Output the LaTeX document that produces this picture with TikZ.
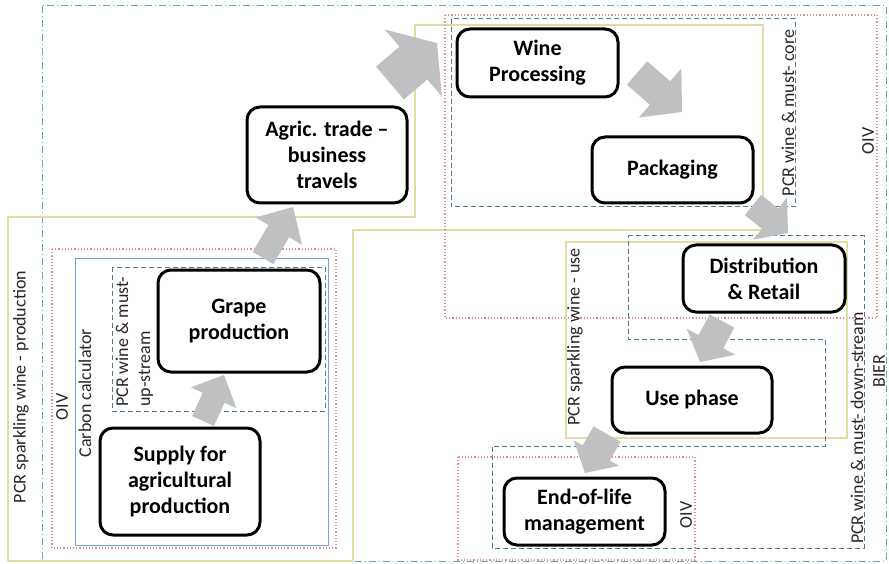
\documentclass[tikz,border=0pt]{standalone}
\usepackage{fontspec}
\setmainfont{Carlito}
\usetikzlibrary{calc}
\definecolor{boxyellow}{RGB}{226,219,165}
\definecolor{oivred}{RGB}{226,140,150}
\definecolor{bierteal}{RGB}{90,170,190}
\definecolor{pcrteal}{RGB}{80,125,150}
\definecolor{calcblue}{RGB}{120,165,215}
\definecolor{arrowgray}{RGB}{191,192,194}
\newcommand\blockarrow[5]{%
  \coordinate (tmpH) at ($(#2)!#5!(#1)$);
  \fill[arrowgray] ($(#1)!#3!90:(#2)$) -- ($(tmpH)!#3!90:(#2)$) -- ($(tmpH)!#4!90:(#2)$)
    -- (#2) -- ($(tmpH)!#4!-90:(#2)$) -- ($(tmpH)!#3!-90:(#2)$) -- ($(#1)!#3!-90:(#2)$) -- cycle;
}
\tikzset{
  stage/.style={draw=black, line width=3pt, rounded corners=13pt, fill=white, align=center,
    font=\bfseries\fontsize{22}{26}\selectfont, inner sep=0pt},
  lbl/.style={rotate=90, font=\fontsize{18}{21}\selectfont, text=black!85, inner sep=0pt},
  bierbox/.style={draw=bierteal, line width=1pt, dash pattern=on 7pt off 3pt on 1pt off 3pt},
  prodbox/.style={draw=boxyellow, line width=1.2pt},
  oivbox/.style={draw=oivred, line width=1.2pt, dotted},
  calcbox/.style={draw=calcblue, line width=1pt},
  pcrbox/.style={draw=pcrteal, line width=1pt, dash pattern=on 5pt off 3pt},
}
\begin{document}
\begin{tikzpicture}[x=1pt,y=-1pt]
\useasboundingbox (0,0) rectangle (889,564);
% group boxes
\draw[bierbox] (42,6) rectangle (886,561);
\draw[prodbox] (8,217) -- (415,217) -- (415,25) -- (763,25) -- (763,230) -- (353,230) -- (353,561) -- (8,561) -- cycle;
\draw[oivbox] (445,15) rectangle (877,318);
\draw[oivbox] (52,249) rectangle (336,548);
\draw[oivbox] (458,457) rectangle (695,560);
\draw[calcbox] (75,259) rectangle (328,545);
\draw[pcrbox] (112,267) rectangle (325,411);
\draw[pcrbox] (451,19) rectangle (795,207);
\draw[prodbox] (566,242) rectangle (847,438);
\draw[pcrbox] (628,236) -- (864,236) -- (864,548) -- (492,548) -- (492,446) -- (825,446) -- (825,339) -- (628,339) -- cycle;
% labels
\node[lbl] (lprod) at (21,387) {PCR sparkling wine - production};
\node[lbl] (loiv1) at (62,407) {OIV};
\node[lbl] (lcalc) at (85,393) {Carbon calculator};
\node[lbl, anchor=west, align=left, font=\fontsize{18}{22}\selectfont] (lup) at (134.5,407) {PCR wine \& must-\\up-stream};
\node[lbl] (lcore) at (788,113) {PCR wine \& must- core};
\node[lbl] (loiv2) at (868,141) {OIV};
\node[lbl] (luse) at (575,337) {PCR sparkling wine - use};
\node[lbl] (ldown) at (857,428) {PCR wine \& must- down-stream};
\node[lbl] (lbier) at (879,371) {BIER};
\node[lbl] (loiv3) at (686,515) {OIV};
% arrow end points
\coordinate (a1s) at (390,83);  \coordinate (a1e) at (437,43);
\coordinate (a2s) at (637,73);  \coordinate (a2e) at (682,112);
\coordinate (a3s) at (753,205); \coordinate (a3e) at (788,233);
\coordinate (a4s) at (203,421); \coordinate (a4e) at (224,375);
\coordinate (a5s) at (263,258); \coordinate (a5e) at (293,207);
\coordinate (a6s) at (722,321); \coordinate (a6e) at (700,362);
\coordinate (a7s) at (607,434); \coordinate (a7e) at (585,473);
\blockarrow{a1s}{a1e}{21.5pt}{44pt}{31pt}
\blockarrow{a2s}{a2e}{15.5pt}{32.5pt}{29pt}
\blockarrow{a3s}{a3e}{13pt}{27pt}{23pt}
\blockarrow{a4s}{a4e}{12pt}{25pt}{25pt}
\blockarrow{a5s}{a5e}{12pt}{27pt}{28pt}
\blockarrow{a6s}{a6e}{14pt}{27.5pt}{23pt}
\blockarrow{a7s}{a7e}{15.5pt}{26pt}{23pt}
% stages
\node[stage, minimum width=161pt, minimum height=68pt] (wine) at (537.5,63) {Wine\\Processing};
\node[stage, minimum width=161pt, minimum height=66pt] (pack) at (672.5,170) {Packaging};
\node[stage, minimum width=160pt, minimum height=96pt] (agric) at (327,155) {Agric. trade --\\business\\travels};
\node[stage, minimum width=162pt, minimum height=102pt] (grape) at (239,321) {Grape\\production};
\node[stage, minimum width=160pt, minimum height=107pt] (supply) at (180,481.5) {Supply for\\agricultural\\production};
\node[stage, minimum width=162pt, minimum height=67pt] (dist) at (764,278.5) {Distribution\\\& Retail};
\node[stage, minimum width=160pt, minimum height=66pt] (use) at (692,400) {Use phase};
\node[stage, minimum width=161pt, minimum height=67pt] (eol) at (584.5,511.5) {End-of-life\\management};
\end{tikzpicture}
\end{document}
